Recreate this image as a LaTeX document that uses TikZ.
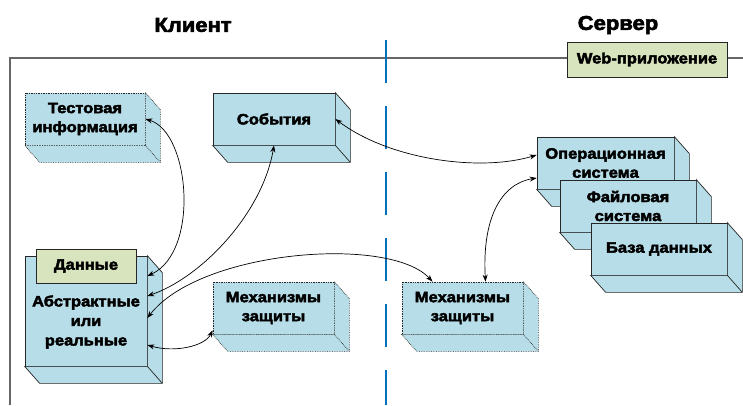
\documentclass[tikz,border=0pt]{standalone}
\usepackage{fontspec}
\setmainfont{Liberation Sans}[FakeStretch=1.1,BoldFeatures={FakeBold=3}]
\usetikzlibrary{arrows.meta}
\definecolor{boxblue}{RGB}{183,221,232}
\definecolor{boxgreen}{RGB}{215,228,189}
\definecolor{splitblue}{RGB}{0,112,192}
\tikzset{
	face/.style={draw=black!85,fill=boxblue,line width=0.7pt,inner sep=0pt,align=center,
		font=\fontsize{15}{19}\selectfont\bfseries},
	dotface/.style={face,densely dotted},
	tag/.style={face,fill=boxgreen},
	title/.style={font=\fontsize{20}{24}\selectfont\bfseries}
}
% side and bottom faces of a box node
\newcommand{\sidefaces}[2][]{
	\draw[draw=black!85,fill=boxblue,line width=0.7pt,#1] (#2.north east) -- ++(15,17)
		-- ([shift={(15,17)}]#2.south east) -- ([shift={(15,17)}]#2.south west)
		-- (#2.south west) -- (#2.south east) -- cycle;
	\draw[draw=black!85,line width=0.7pt,#1] (#2.south east) -- ++(15,17);
}
\begin{document}
\begin{tikzpicture}[x=1pt,y=-1pt,>={Stealth[length=7pt,width=5pt]}]
	\useasboundingbox (0,0) rectangle (743,405);
	\draw[black!60,line width=1.2pt] (10,405) -- (10,58) -- (743,58);
	\draw[splitblue,line width=2.5pt,dash pattern=on 43pt off 23pt] (386,40) -- (386,405);
	\node[title] (client) at (193,25) {Клиент};
	\node[title] (server) at (618,25) {Сервер};
	\node[tag,minimum width=160pt,minimum height=35pt] (web) at (647,59.5) {Web-приложение};
	% client side
	\node[dotface,minimum width=120pt,minimum height=52pt] (test) at (85,119) {Тестовая\\информация};
	\sidefaces[densely dotted]{test}
	\node[face,minimum width=122pt,minimum height=52pt] (events) at (274,119) {События};
	\sidefaces{events}
	\node[face,minimum width=122pt,minimum height=110pt] (abstr) at (86,311) {};
	\sidefaces{abstr}
	\node[font=\fontsize{15}{19.5}\selectfont\bfseries,align=center] (abstrtxt) at (86,322) {Абстрактные\\или\\реальные};
	\node[tag,minimum width=100pt,minimum height=34pt] (data) at (86,266) {Данные};
	\node[dotface,minimum width=121pt,minimum height=52pt] (protc) at (273.5,308) {Механизмы\\защиты};
	\sidefaces[densely dotted]{protc}
	% server side
	\node[dotface,minimum width=121pt,minimum height=52pt] (prots) at (462.5,308) {Механизмы\\защиты};
	\sidefaces[densely dotted]{prots}
	\node[face,minimum width=137pt,minimum height=52pt] (os) at (605.5,163) {Операционная\\система};
	\sidefaces{os}
	\node[face,minimum width=136pt,minimum height=52pt] (fs) at (628,206) {Файловая\\система};
	\sidefaces{fs}
	\node[face,minimum width=136pt,minimum height=52pt] (db) at (659,249) {База данных};
	\sidefaces{db}
	% links
	\draw[<->,line width=0.7pt] (test.east) .. controls (190,132) and (200,252) .. ([yshift=35pt]abstr.east);
	\draw[<->,line width=0.7pt] (events.south) .. controls (262,215) and (200,278) .. ([yshift=15pt]abstr.east);
	\draw[<->,line width=0.7pt] ([yshift=-7pt]abstr.east) .. controls (200,250) and (390,235) .. ([xshift=-30pt]prots.north);
	\draw[<->,line width=0.7pt] ([yshift=-34pt]abstr.east) .. controls (175,353) and (205,346) .. ([yshift=4pt]protc.south west);
	\draw[<->,line width=0.7pt] (events.east) .. controls (390,160) and (480,172) .. ([yshift=8pt]os.west);
	\draw[<->,line width=0.7pt] ([xshift=23pt]prots.north) .. controls (482,220) and (500,184) .. ([yshift=-15pt]os.west);
\end{tikzpicture}
\end{document}
